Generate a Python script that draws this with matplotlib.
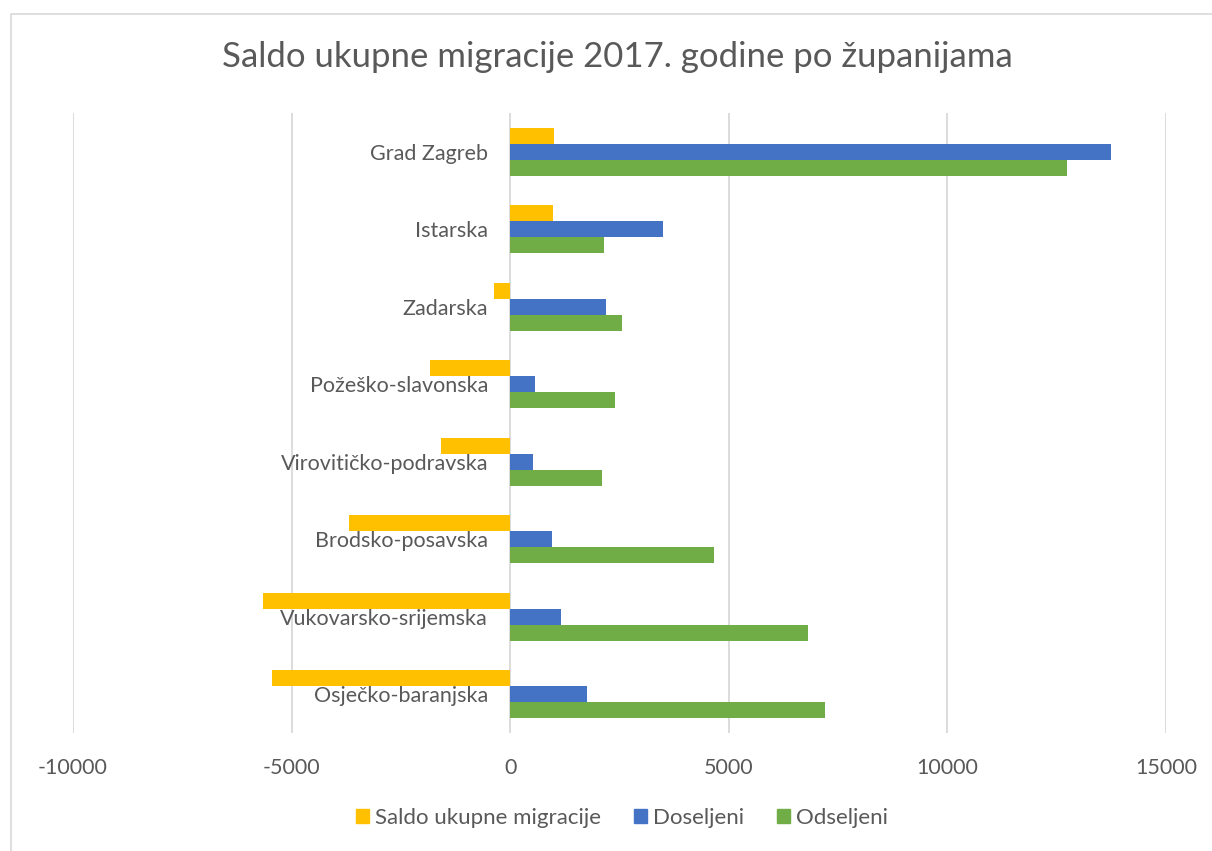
import matplotlib
matplotlib.use("Agg")
import matplotlib.pyplot as plt
from matplotlib.patches import Rectangle, Patch
import numpy as np

plt.rcParams['font.family'] = ['Lato', 'DejaVu Sans']

categories = ["Osječko-baranjska", "Vukovarsko-srijemska", "Brodsko-posavska",
              "Virovitičko-podravska", "Požeško-slavonska", "Zadarska",
              "Istarska", "Grad Zagreb"]
saldo = [-5450, -5660, -3690, -1590, -1840, -370, 990, 1000]
doseljeni = [1760, 1160, 960, 515, 560, 2190, 3505, 13750]
odseljeni = [7210, 6820, 4670, 2110, 2400, 2565, 2150, 12740]
series_names = ["Saldo ukupne migracije", "Doseljeni", "Odseljeni"]
colors = ["#FFC000", "#4472C4", "#70AD47"]
xticks = [-10000, -5000, 0, 5000, 10000, 15000]

W, H = 1212, 851
fig = plt.figure(figsize=(W / 100, H / 100), dpi=100)
fig.patch.set_facecolor("white")

ax = fig.add_axes([73 / W, 1 - 733 / H, (1166 - 73) / W, (733 - 113) / H])
y = np.arange(len(categories))
bh = 0.206
ax.barh(y + bh, saldo, height=bh, color=colors[0], label=series_names[0], zorder=3)
ax.barh(y, doseljeni, height=bh, color=colors[1], label=series_names[1], zorder=3)
ax.barh(y - bh, odseljeni, height=bh, color=colors[2], label=series_names[2], zorder=3)

ax.set_xlim(-10000, 15000)
ax.set_ylim(-0.5, len(categories) - 0.5)
ax.set_xticks(xticks)
ax.set_xticklabels([str(v) for v in xticks])
ax.set_yticks(y)
ax.set_yticklabels(categories)

txt = "#595959"
ax.grid(axis="x", color="#D9D9D9", linewidth=1.3, zorder=0)
for s in ["top", "right", "bottom"]:
    ax.spines[s].set_visible(False)
ax.spines["left"].set_position(("data", 0))
ax.spines["left"].set_visible(False)
ax.tick_params(axis="both", length=0, labelsize=15.5, colors=txt)
ax.tick_params(axis="y", pad=16)
ax.tick_params(axis="x", pad=18)
ax.set_facecolor("none")

fig.text(617 / W, 1 - 57 / H, "Saldo ukupne migracije 2017. godine po županijama",
         ha="center", va="center", fontsize=25, color=txt)

handles = [Patch(color=c) for c in colors]
leg = fig.legend(handles, series_names, loc="center", bbox_to_anchor=(622 / W, 1 - 818 / H),
                 ncol=3, frameon=False, fontsize=16, handlelength=0.58, handleheight=0.58,
                 handletextpad=0.27, columnspacing=1.5, labelcolor=txt)

fig.add_artist(Rectangle((10.5 / W, -0.2), 1.5, 1.2 - 13.5 / H, transform=fig.transFigure,
                         fill=False, edgecolor="#D9D9D9", linewidth=1.2))

fig.savefig("out.png", dpi=100)
